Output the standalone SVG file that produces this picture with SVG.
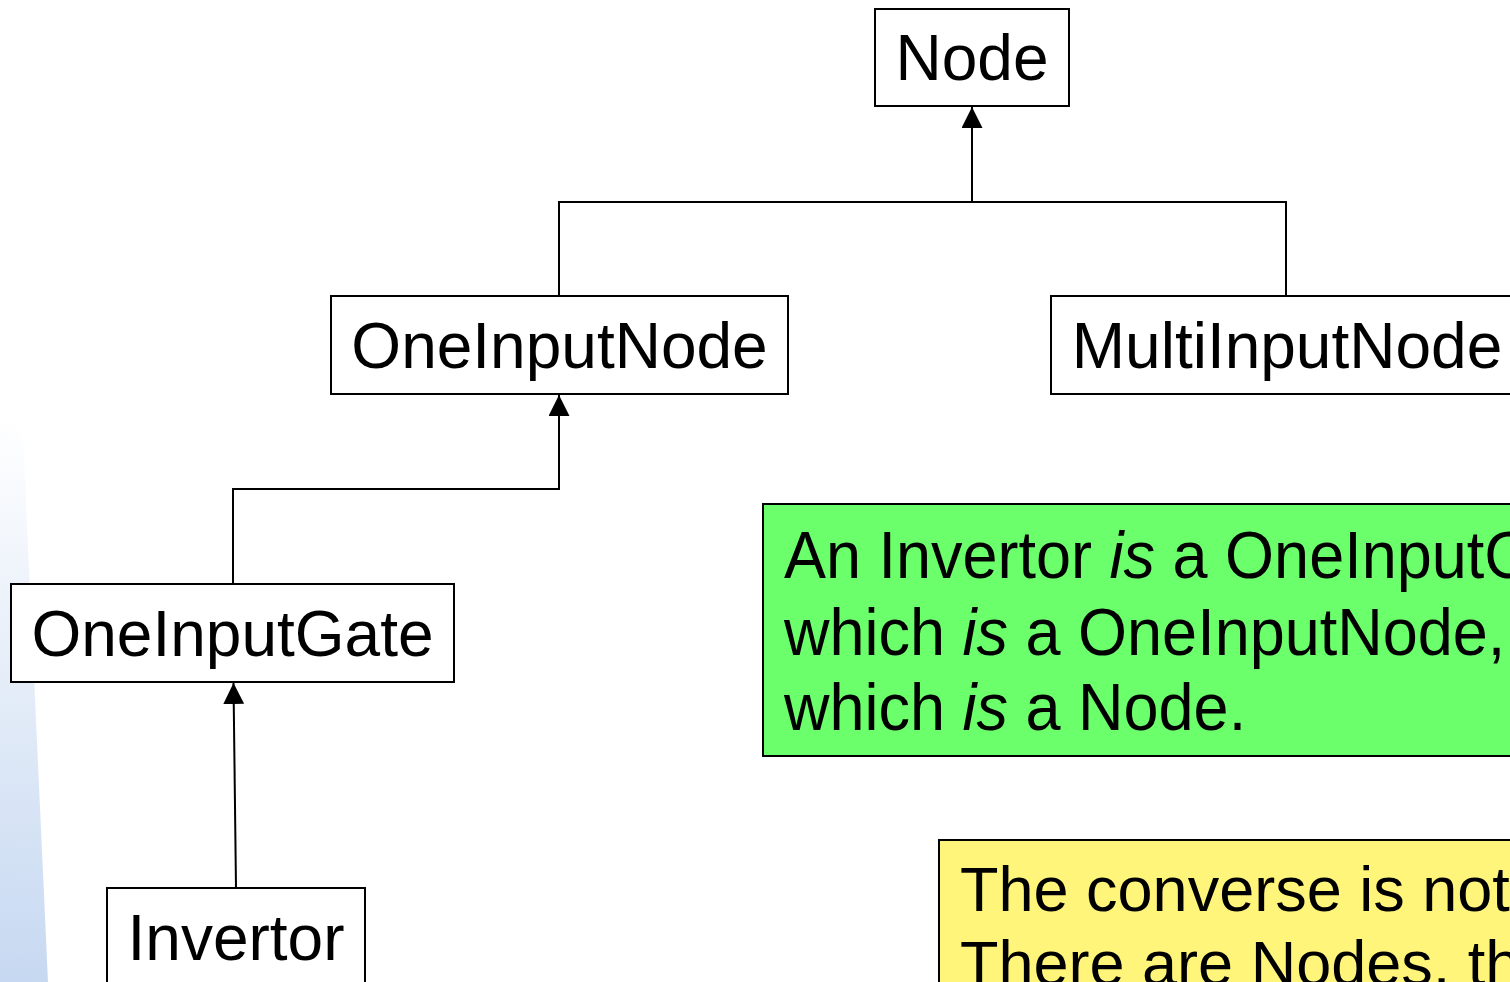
<svg xmlns="http://www.w3.org/2000/svg" width="1510" height="982" viewBox="0 0 1510 982">
<defs>
<linearGradient id="edge" gradientUnits="userSpaceOnUse" x1="0" y1="982" x2="55" y2="420">
<stop offset="0" stop-color="#c6d8f1"/>
<stop offset="1" stop-color="#ffffff"/>
</linearGradient>
<marker id="arr" viewBox="0 0 20 20" refX="20" refY="10" markerWidth="21" markerHeight="21" markerUnits="userSpaceOnUse" orient="auto">
<path d="M0,0 L20,10 L0,20 Z" fill="#000"/>
</marker>
<style>
.box{fill:#fff;stroke:#000;stroke-width:2}
.lbl{font-family:"Liberation Sans",Arial,sans-serif;font-size:64px;fill:#000;text-anchor:middle}
.note{font-family:"Liberation Sans",Arial,sans-serif;font-size:63px;fill:#000}
.con{fill:none;stroke:#000;stroke-width:2}
</style>
</defs>
<rect width="1510" height="982" fill="#fff"/>
<polygon points="0,0 3,0 48,982 0,982" fill="url(#edge)"/>
<g id="connectors">
<path class="con" d="M972,202 V107" marker-end="url(#arr)"/>
<path class="con" d="M559,296 V202 H1286 V296"/>
<path class="con" d="M233,584 V489 H559 V395" marker-end="url(#arr)"/>
<path class="con" d="M236,888 L233.5,683" marker-end="url(#arr)"/>
</g>
<g id="node-Node">
<rect class="box" x="875" y="9" width="194" height="97"/>
<text class="lbl" x="972" y="80">Node</text>
</g>
<g id="node-OneInputNode">
<rect class="box" x="331" y="296" width="457" height="98"/>
<text class="lbl" x="559.5" y="368">OneInputNode</text>
</g>
<g id="node-MultiInputNode">
<rect class="box" x="1051" y="296" width="470" height="98"/>
<text class="lbl" x="1287" y="368">MultiInputNode</text>
</g>
<g id="node-OneInputGate">
<rect class="box" x="11" y="584" width="443" height="98"/>
<text class="lbl" x="232.5" y="656">OneInputGate</text>
</g>
<g id="node-Invertor">
<rect class="box" x="107" y="888" width="258" height="110"/>
<text class="lbl" x="236" y="960">Invertor</text>
</g>
<g id="note-green">
<rect x="763" y="504" width="760" height="252" fill="#6bff6b" stroke="#000" stroke-width="2"/>
<text class="note" transform="translate(784,0) scale(1,1.06)"><tspan x="0" y="545">An Invertor <tspan font-style="italic">is</tspan> a OneInputGate,</tspan></text>
<text class="note" transform="translate(784,0) scale(1,1.06)"><tspan x="0" y="617.5">which <tspan font-style="italic">is</tspan> a OneInputNode,</tspan></text>
<text class="note" transform="translate(784,0) scale(1,1.06)"><tspan x="0" y="688.5">which <tspan font-style="italic">is</tspan> a Node.</tspan></text>
</g>
<g id="note-yellow">
<rect x="939" y="840" width="580" height="160" fill="#fff57a" stroke="#000" stroke-width="2"/>
<text class="note" x="960" y="911" font-size="61">The converse is not true.</text>
<text class="note" x="960" y="985" font-size="61">There are Nodes, that are not Invertors.</text>
</g>
</svg>
